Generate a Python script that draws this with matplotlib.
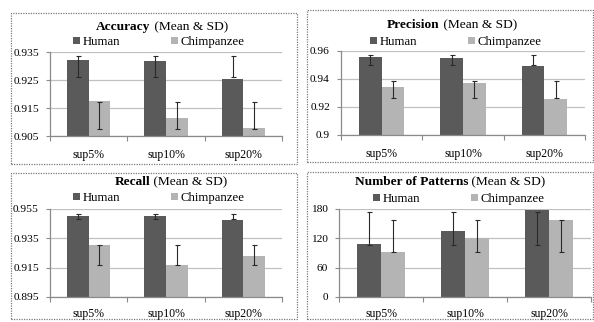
import matplotlib
matplotlib.use("Agg")
import matplotlib.pyplot as plt
from matplotlib.patches import Rectangle, Patch
from matplotlib.ticker import FixedLocator

# ---------------- data ----------------
categories = ["sup5%", "sup10%", "sup20%"]
series = ["Human", "Chimpanzee"]

acc_human = [0.9320, 0.9318, 0.9255]
acc_chimp = [0.9174, 0.9116, 0.9078]
acc_human_lo = [0.9262, 0.9262, 0.9262]
acc_human_hi = [0.9334, 0.9334, 0.9334]
acc_chimp_lo = [0.9074, 0.9074, 0.9074]
acc_chimp_hi = [0.9170, 0.9170, 0.9170]
acc_ticks = [0.905, 0.915, 0.925, 0.935]
acc_ticklabels = ["0.905", "0.915", "0.925", "0.935"]

prec_human = [0.9557, 0.9551, 0.9495]
prec_chimp = [0.9345, 0.9375, 0.9255]
prec_human_lo = [0.9500, 0.9500, 0.9500]
prec_human_hi = [0.9568, 0.9568, 0.9568]
prec_chimp_lo = [0.9265, 0.9265, 0.9265]
prec_chimp_hi = [0.9383, 0.9383, 0.9383]
prec_ticks = [0.90, 0.92, 0.94, 0.96]
prec_ticklabels = ["0.9", "0.92", "0.94", "0.96"]

rec_human = [0.9501, 0.9505, 0.9474]
rec_chimp = [0.9303, 0.9165, 0.9231]
rec_human_lo = [0.9483, 0.9483, 0.9483]
rec_human_hi = [0.9516, 0.9516, 0.9516]
rec_chimp_lo = [0.9170, 0.9170, 0.9170]
rec_chimp_hi = [0.9303, 0.9303, 0.9303]
rec_ticks = [0.895, 0.915, 0.935, 0.955]
rec_ticklabels = ["0.895", "0.915", "0.935", "0.955"]

pat_human = [108, 135, 178]
pat_chimp = [92, 120, 158]
pat_human_lo = [106, 106, 106]
pat_human_hi = [174, 174, 174]
pat_chimp_lo = [92, 92, 92]
pat_chimp_hi = [157, 157, 157]
pat_ticks = [0, 60, 120, 180]
pat_ticklabels = ["0", "60", "120", "180"]

# ---------------- style ----------------
W, H = 594, 322
C_HUMAN = "#5a5a5a"
C_CHIMP = "#b4b4b4"
C_GRID = "#c0c0c0"
C_AXIS = "#8a8a8a"
C_ERR = "#2a2a2a"
FS = 8.2

plt.rcParams.update({
    "font.family": ["Liberation Serif", "DejaVu Serif"],
    "font.size": FS,
})

fig = plt.figure(figsize=(W / 100, H / 100), dpi=100)
fig.patch.set_facecolor("white")


def px_axes(x0, x1, y0, y1):
    # pixel box (top-left origin) -> axes
    return fig.add_axes([x0 / W, 1 - y1 / H, (x1 - x0) / W, (y1 - y0) / H])


def frame(x0, x1, y0, y1):
    fig.add_artist(Rectangle((x0 / W, 1 - y1 / H), (x1 - x0) / W, (y1 - y0) / H,
                             transform=fig.transFigure, fill=False,
                             ls=(0, (1, 1)), ec="#7a7a7a", lw=0.9))


def mixed_title(cx, cy, bold, rest):
    r = fig.canvas.get_renderer()
    t1 = fig.text(0, 1 - cy / H, bold, weight="bold", size=9.6, va="center")
    t2 = fig.text(0, 1 - cy / H, "\u00a0" + rest, size=9.6, va="center")
    w1 = t1.get_window_extent(r).width
    w2 = t2.get_window_extent(r).width
    x0 = cx - (w1 + w2) / 2
    t1.set_x(x0 / W)
    t2.set_x((x0 + w1) / W)


def legend(cx, cy):
    handles = [Patch(facecolor=C_HUMAN, edgecolor="none"),
               Patch(facecolor=C_CHIMP, edgecolor="none")]
    fig.legend(handles, series, loc="center", bbox_to_anchor=(cx / W, 1 - cy / H),
               ncol=2, frameon=False, handlelength=0.55, handleheight=0.55,
               handletextpad=0.2, columnspacing=4.0, fontsize=9.2,
               borderaxespad=0, borderpad=0)


def panel(box, fbox, title_xy, leg_xy, bold, human, chimp, h_lo, h_hi, c_lo, c_hi,
          ticks, ticklabels, xpad):
    frame(*fbox)
    ax = px_axes(*box)
    x = range(len(categories))
    bw = 0.28
    xh = [i - bw / 2 for i in x]
    xc = [i + bw / 2 for i in x]
    ax.bar(xh, human, width=bw, color=C_HUMAN, zorder=2)
    ax.bar(xc, chimp, width=bw, color=C_CHIMP, zorder=2)
    ax.errorbar(xh, [(a + b) / 2 for a, b in zip(h_lo, h_hi)],
                yerr=[(b - a) / 2 for a, b in zip(h_lo, h_hi)],
                fmt="none", ecolor=C_ERR, elinewidth=0.8, capsize=1.8,
                capthick=0.8, zorder=3)
    ax.errorbar(xc, [(a + b) / 2 for a, b in zip(c_lo, c_hi)],
                yerr=[(b - a) / 2 for a, b in zip(c_lo, c_hi)],
                fmt="none", ecolor=C_ERR, elinewidth=0.8, capsize=1.8,
                capthick=0.8, zorder=3)
    ax.set_xlim(-0.5, len(categories) - 0.5)
    ax.set_ylim(ticks[0], ticks[-1])
    ax.set_yticks(ticks)
    ax.set_yticklabels(ticklabels)
    ax.set_xticks(list(x))
    ax.set_xticklabels(categories)
    ax.xaxis.set_minor_locator(FixedLocator([i - 0.5 for i in range(len(categories) + 1)]))
    ax.tick_params(axis="x", which="major", length=0, pad=xpad, labelsize=8.5)
    ax.tick_params(axis="x", which="minor", length=3.5, color=C_AXIS, width=0.8)
    ax.tick_params(axis="y", length=3, color=C_AXIS, width=0.8, pad=5, labelsize=FS)
    ax.grid(True, axis="y", color=C_GRID, lw=0.9, zorder=0)
    ax.set_axisbelow(True)
    for s in ("top", "right"):
        ax.spines[s].set_visible(False)
    for s in ("left", "bottom"):
        ax.spines[s].set_color(C_AXIS)
        ax.spines[s].set_linewidth(0.9)
    mixed_title(*title_xy, bold, "(Mean & SD)")
    legend(*leg_xy)
    return ax


panel((50, 282, 52, 136), (11, 297, 13, 164), (162, 27), (159, 42), "Accuracy",
      acc_human, acc_chimp, acc_human_lo, acc_human_hi, acc_chimp_lo, acc_chimp_hi,
      acc_ticks, acc_ticklabels, 9.5)
panel((341, 585, 51, 135), (307, 593, 10, 162), (452, 25), (456, 42), "Precision",
      prec_human, prec_chimp, prec_human_lo, prec_human_hi, prec_chimp_lo, prec_chimp_hi,
      prec_ticks, prec_ticklabels, 9.5)
panel((50, 282, 209, 297), (11, 297, 173, 319), (171, 182), (159, 198), "Recall",
      rec_human, rec_chimp, rec_human_lo, rec_human_hi, rec_chimp_lo, rec_chimp_hi,
      rec_ticks, rec_ticklabels, 8)
panel((339, 591, 209, 297), (307, 593, 172, 319), (450, 182), (459, 199), "Number of Patterns",
      pat_human, pat_chimp, pat_human_lo, pat_human_hi, pat_chimp_lo, pat_chimp_hi,
      pat_ticks, pat_ticklabels, 8)

fig.savefig("out.png", dpi=100)
